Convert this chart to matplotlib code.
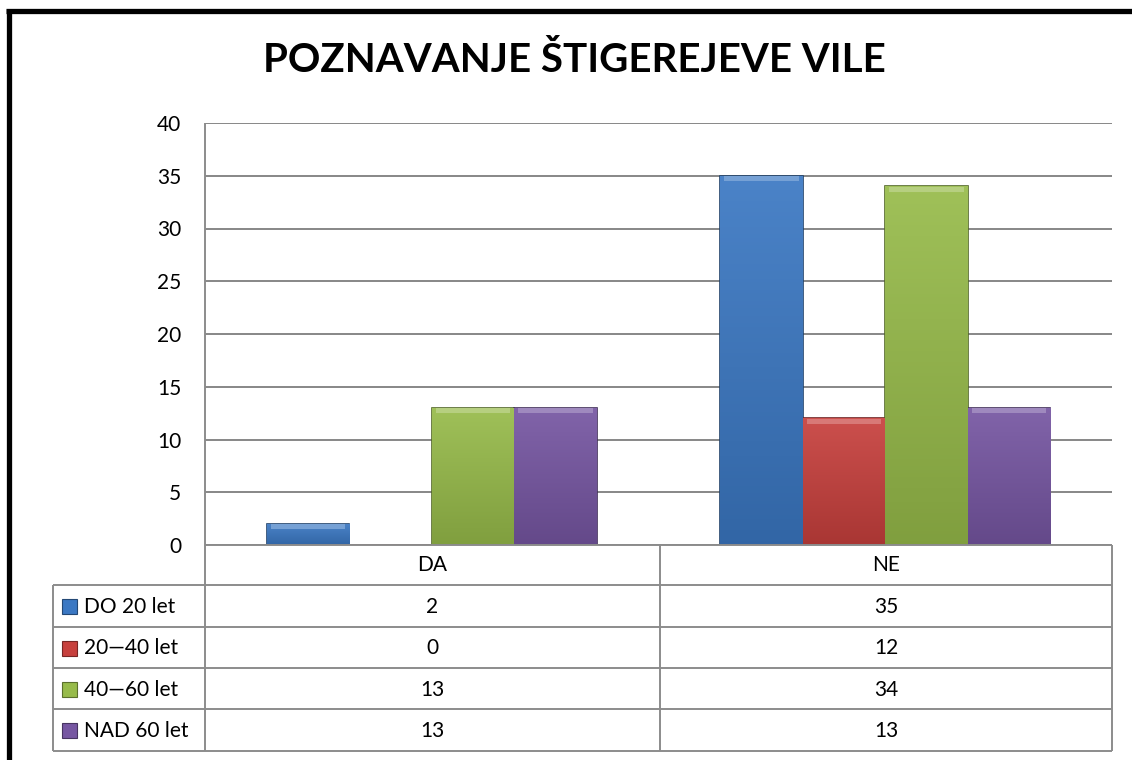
import numpy as np
import matplotlib.pyplot as plt
from matplotlib.colors import LinearSegmentedColormap, to_rgb

plt.rcParams['font.family'] = ['Lato', 'DejaVu Sans']

# Data
title = 'POZNAVANJE ŠTIGEREJEVE VILE'
categories = ['DA', 'NE']
series_names = ['DO 20 let', '20—40 let', '40—60 let', 'NAD 60 let']
do_20 = [2, 35]
od_20_40 = [0, 12]
od_40_60 = [13, 34]
nad_60 = [13, 13]
values = [do_20, od_20_40, od_40_60, nad_60]
colors = ['#3b78c3', '#c7403d', '#97bb4a', '#7656a2']
y_ticks = [0, 5, 10, 15, 20, 25, 30, 35, 40]

W, H = 1132, 760
fig = plt.figure(figsize=(W / 100, H / 100), dpi=100)

# layout in pixels
plot_l, plot_r, plot_t, plot_b = 205, 1112, 123, 545
tab_l, col_split, tab_b = 53, 660, 751
row_edges = [585, 627, 668, 709, 751]
fs = 15

ax = fig.add_axes([plot_l / W, 1 - plot_b / H, (plot_r - plot_l) / W, (plot_b - plot_t) / H])
x = np.arange(len(categories))
width = 0.182


def shade(c, f):
    r, g, b = to_rgb(c)
    if f > 1:
        return (r + (1 - r) * (f - 1), g + (1 - g) * (f - 1), b + (1 - b) * (f - 1))
    return (r * f, g * f, b * f)


for i, (vals, col) in enumerate(zip(values, colors)):
    bars = ax.bar(x + (i - 1.5) * width, vals, width, color=col,
                  edgecolor=shade(col, 0.55), linewidth=1.2, zorder=3)
    cmap = LinearSegmentedColormap.from_list('g', [shade(col, 0.85), shade(col, 1.08)])
    for rect in bars:
        h = rect.get_height()
        if h <= 0:
            continue
        x0 = rect.get_x()
        grad = np.linspace(0, 1, 100).reshape(-1, 1)
        im = ax.imshow(grad, extent=[x0, x0 + rect.get_width(), 0, h], origin='lower',
                       aspect='auto', cmap=cmap, zorder=3.5)
        im.set_clip_path(rect)
        # light bevel on top
        bev = min(0.45, h * 0.2)
        ax.bar(rect.get_x() + rect.get_width() / 2, bev, rect.get_width() * 0.9,
               bottom=h - bev - 0.05, color=shade(col, 1.3), linewidth=0, zorder=3.6)

ax.set_xlim(-0.5, len(categories) - 0.5)
ax.set_ylim(0, 40)
ax.set_yticks(y_ticks)
ax.set_xticks([])
ax.tick_params(axis='y', length=0, pad=17, labelsize=fs)
ax.yaxis.grid(True, color='#878787', linewidth=1.4)
ax.set_axisbelow(True)
for s in ax.spines.values():
    s.set_visible(False)

# overlay for table, title and frame
ov = fig.add_axes([0, 0, 1, 1])
ov.set_xlim(0, W)
ov.set_ylim(H, 0)
ov.axis('off')

grid_kw = dict(color='#8c8c8c', linewidth=1.4, solid_capstyle='butt')
ov.plot([plot_l, plot_l], [plot_t, tab_b], **grid_kw)
ov.plot([plot_l, plot_r], [plot_b, plot_b], **grid_kw)
ov.plot([col_split, col_split], [plot_b, tab_b], **grid_kw)
ov.plot([plot_r, plot_r], [plot_b, tab_b], **grid_kw)
ov.plot([tab_l, tab_l], [row_edges[0], tab_b], **grid_kw)
for y in row_edges:
    ov.plot([tab_l, plot_r], [y, y], **grid_kw)

col_centers = [(plot_l + col_split) / 2, (col_split + plot_r) / 2]
for cx, cat in zip(col_centers, categories):
    ov.text(cx, (plot_b + row_edges[0]) / 2, cat, ha='center', va='center', fontsize=fs)

for r, (name, vals, col) in enumerate(zip(series_names, values, colors)):
    cy = (row_edges[r] + row_edges[r + 1]) / 2
    ov.add_patch(plt.Rectangle((62, cy - 7), 15, 15, facecolor=col,
                               edgecolor=shade(col, 0.6), linewidth=0.8))
    ov.text(84, cy + 1, name, ha='left', va='center', fontsize=fs)
    for cx, v in zip(col_centers, vals):
        ov.text(cx, cy + 1, str(v), ha='center', va='center', fontsize=fs)

ov.text(574, 60, title, ha='center', va='center', fontsize=29, fontweight='bold')

# outer black frame (cropped on the right and bottom)
ov.plot([8.5, 8.5], [9, H + 5], color='black', linewidth=3.8, solid_capstyle='butt')
ov.plot([6, W + 5], [11, 11], color='black', linewidth=3.8, solid_capstyle='butt')

fig.savefig('out.png', dpi=100)
